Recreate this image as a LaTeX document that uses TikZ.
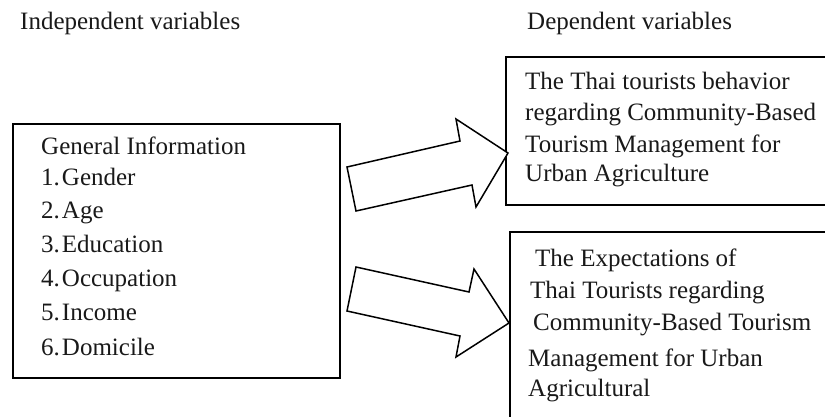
\documentclass[tikz,border=0pt]{standalone}
\usepackage{fontspec}
\setmainfont{Liberation Serif}
\begin{document}
\begin{tikzpicture}[x=1pt,y=-1pt,
  boxframe/.style={draw=black,line width=1.8pt},
  label/.style={anchor=base west,inner sep=0pt,text=black!90,
    font=\fontsize{25}{30}\selectfont},
  blockarrow/.style={draw=black,line width=1.5pt,fill=white,line join=miter}]
\useasboundingbox (0,0) rectangle (825,416);
\clip (0,0) rectangle (825,416);

% headers
\node[label] (hind) at (20,29) {Independent variables};
\node[label] (hdep) at (527,29) {Dependent variables};

% independent variables box
\draw[boxframe] (13,124) rectangle (340,378);
\node[label] (gen) at (41,154) {General Information};
\node[label] (v1) at (41,185) {1.\hspace{2pt}Gender};
\node[label] (v2) at (41,218) {2.\hspace{2pt}Age};
\node[label] (v3) at (41,252) {3.\hspace{2pt}Education};
\node[label] (v4) at (41,286) {4.\hspace{2pt}Occupation};
\node[label] (v5) at (41,320) {5.\hspace{2pt}Income};
\node[label] (v6) at (41,355) {6.\hspace{2pt}Domicile};

% behaviour box
\draw[boxframe] (506,57) rectangle (830,205);
\node[label] (b1) at (525,89) {The Thai tourists behavior};
\node[label] (b2) at (525,120) {regarding Community-Based};
\node[label] (b3) at (525,152) {Tourism Management for};
\node[label] (b4) at (525,181) {Urban Agriculture};

% expectations box
\draw[boxframe] (510,232) rectangle (830,430);
\node[label] (e1) at (535,266) {The Expectations of};
\node[label] (e2) at (530,298) {Thai Tourists regarding};
\node[label] (e3) at (533,330) {Community-Based Tourism};
\node[label] (e4) at (528,366) {Management for Urban};
\node[label] (e5) at (528,396) {Agricultural};

% block arrows
\draw[blockarrow] (347,167) -- (460,141) -- (456,119) -- (508,153)
  -- (476,207) -- (472,185) -- (356,211) -- cycle;
\draw[blockarrow] (356,267) -- (469,292) -- (474,269) -- (509,323)
  -- (456,357) -- (460,336) -- (347,311) -- cycle;
\end{tikzpicture}
\end{document}
